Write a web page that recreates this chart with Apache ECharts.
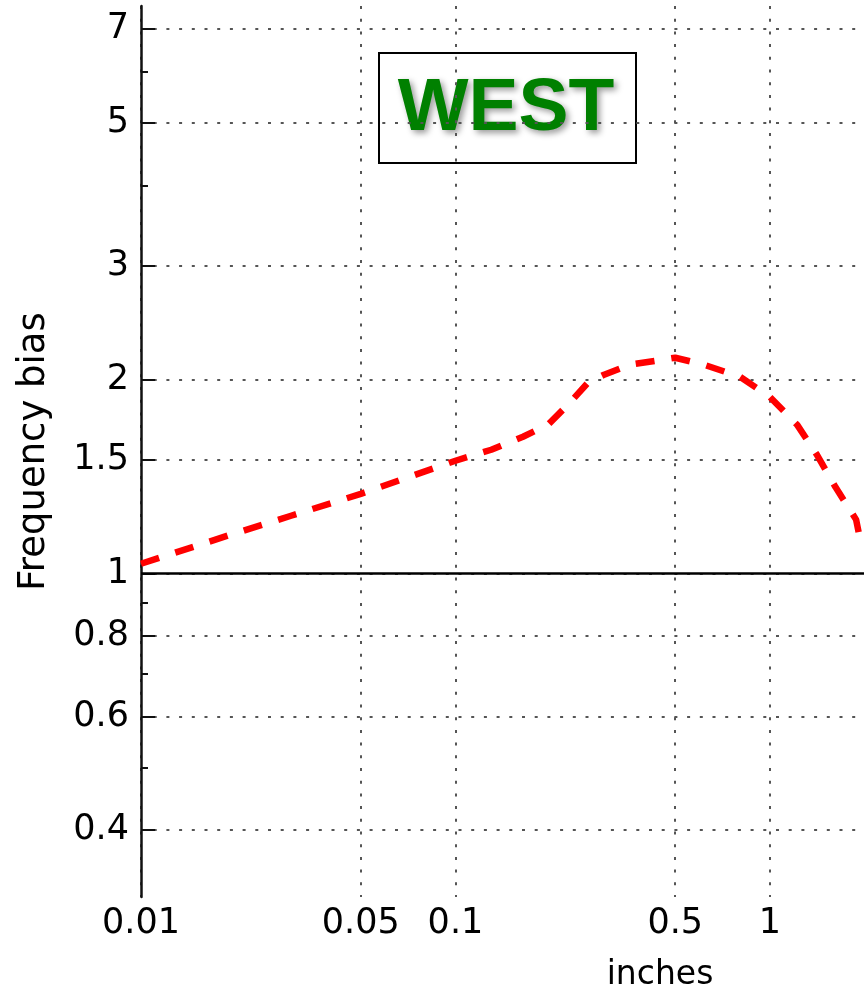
<!DOCTYPE html>
<html><head><meta charset="utf-8">
<script src="https://cdn.jsdelivr.net/npm/echarts@6/dist/echarts.min.js"></script>
<style>html,body{margin:0;padding:0;background:#fff}#c{width:864px;height:991px}</style>
</head><body><div id="c"></div>
<script>
// ---- data ----
const inches = [0.01, 0.02, 0.03, 0.05, 0.1, 0.13, 0.164, 0.197, 0.228, 0.264, 0.297, 0.359, 0.5, 0.617, 0.803, 1.0, 1.22, 1.41, 1.62, 1.88, 1.96];
const bias   = [1.036, 1.156, 1.23, 1.33, 1.497, 1.557, 1.631, 1.703, 1.829, 1.979, 2.036, 2.11, 2.163, 2.11, 2.021, 1.88, 1.703, 1.53, 1.36, 1.213, 1.097];
const xTicks = [0.01, 0.05, 0.1, 0.5, 1];
const yTicks = [0.4, 0.6, 0.8, 1, 1.5, 2, 3, 5, 7];
const yMinorTicks = [0.5, 0.7, 0.9, 4, 6];
const referenceLevel = 1;
const xRange = [0.01, 20];
const yRange = [0.315, 7.6];
const panelTitle = 'WEST';
const xName = 'inches';
const yName = 'Frequency bias';

const chart = echarts.init(document.getElementById('c'), null, {renderer: 'canvas'});
const fmt = v => String(+(+v).toPrecision(3));
const dotted = {color: '#555', width: 2, type: [3, 9.7]};
const gridLayout = {left: 141, top: 6, bottom: 94, width: 1038, outerBoundsMode: 'none', containLabel: false};

chart.setOption({
  animation: false,
  backgroundColor: '#fff',
  grid: [Object.assign({}, gridLayout), Object.assign({}, gridLayout)],
  xAxis: [{
    type: 'log', gridIndex: 0, min: xRange[0], max: xRange[1], logBase: 10,
    name: xName, nameLocation: 'middle', nameGap: 62,
    nameTextStyle: {fontFamily: 'DejaVu Sans', fontSize: 33, color: '#000'},
    axisLine: {show: false},
    axisTick: {show: false, customValues: xTicks},
    axisLabel: {customValues: xTicks, formatter: fmt, fontFamily: 'DejaVu Sans', fontSize: 35, color: '#000', margin: 9},
    splitLine: {show: true, lineStyle: dotted},
    minorTick: {show: false}, minorSplitLine: {show: false}
  }, {
    type: 'log', gridIndex: 1, min: xRange[0], max: xRange[1], show: false
  }],
  yAxis: [{
    type: 'log', gridIndex: 0, min: yRange[0], max: yRange[1], logBase: 10,
    name: yName, nameLocation: 'middle', nameGap: 88,
    nameTextStyle: {fontFamily: 'DejaVu Sans', fontSize: 37, color: '#000'},
    axisLine: {show: true, lineStyle: {color: '#111', width: 2.5}},
    axisTick: {show: true, inside: true, length: 14, customValues: yTicks, lineStyle: {color: '#111', width: 2}},
    axisLabel: {customValues: yTicks, formatter: fmt, fontFamily: 'DejaVu Sans', fontSize: 35, color: '#000', margin: 12, padding: [5, 0, 0, 0]},
    splitLine: {show: true, lineStyle: dotted}
  }, {
    type: 'log', gridIndex: 1, min: yRange[0], max: yRange[1], logBase: 10,
    axisLine: {show: false},
    axisTick: {show: true, inside: true, length: 7, customValues: yMinorTicks, lineStyle: {color: '#111', width: 2}},
    axisLabel: {show: false},
    splitLine: {show: false}
  }],
  series: [{
    type: 'line',
    xAxisIndex: 0, yAxisIndex: 0,
    data: inches.map((x, i) => [x, bias[i]]),
    showSymbol: false, symbol: 'none',
    lineStyle: {color: '#ff0000', width: 6.5, type: [19, 17], cap: 'butt'},
    markLine: {
      silent: true, symbol: ['none', 'none'], label: {show: false},
      lineStyle: {color: '#000', width: 2.5, type: 'solid'},
      data: [{yAxis: referenceLevel}]
    },
    z: 3
  }],
  graphic: [{
    type: 'group', left: 378, top: 52, z: 100,
    children: [{
      type: 'rect', shape: {x: 0, y: 0, width: 257, height: 110},
      style: {fill: '#fff', stroke: '#000', lineWidth: 2}
    }, {
      type: 'text', x: 127, y: 56,
      style: {
        text: panelTitle, fill: '#008000',
        font: 'bold 75px "Liberation Sans", Arial, sans-serif',
        align: 'center', verticalAlign: 'middle',
        textShadowColor: 'rgba(0,0,0,0.4)', textShadowBlur: 6,
        textShadowOffsetX: 3, textShadowOffsetY: 3
      }
    }]
  }]
});
</script>
</body></html>
